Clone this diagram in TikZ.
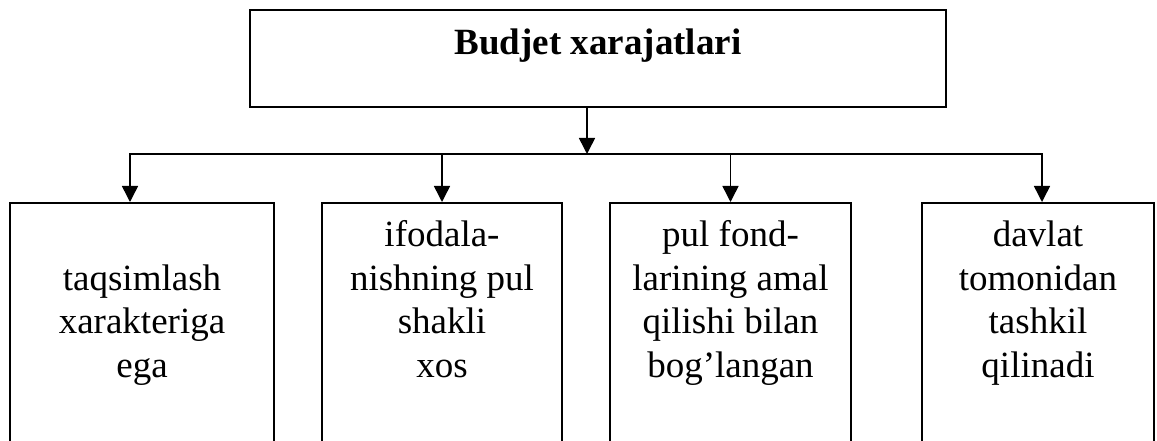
\documentclass[tikz,border=0pt]{standalone}
\usepackage{fontspec}
\setmainfont{Liberation Serif}
\usetikzlibrary{arrows.meta}
\begin{document}
\begin{tikzpicture}[
        x=1pt, y=-1pt,
        line width=1.5pt,
        box/.style={draw, rectangle, inner sep=0pt, minimum height=260pt, anchor=north},
        txt/.style={align=center, anchor=base, inner sep=0pt,
            font=\fontsize{37}{43.5}\selectfont},
        arr/.style={-{Triangle[length=16pt, width=16pt]}}
    ]

    \useasboundingbox (0,0) rectangle (1157,441);
    \clip (0,0) rectangle (1157,441);

    \node[draw, inner sep=0pt, minimum width=696pt, minimum height=97pt] (top) at (598,58.5) {};
    \node[txt, font=\fontsize{37}{43.5}\selectfont\bfseries] (title) at (598,55) {Budjet xarajatlari};

    \node[box, minimum width=264pt] (b1) at (142,202) {};
    \node[box, minimum width=240pt] (b2) at (442,202) {};
    \node[box, minimum width=241pt] (b3) at (730.5,202) {};
    \node[box, minimum width=232pt] (b4) at (1038,202) {};

    \node[txt] (t1) at (142,377) {taqsimlash\\xarakteriga\\ega};
    \node[txt] (t2) at (442,377) {ifodala-\\nishning pul\\shakli\\xos};
    \node[txt] (t3) at (730.5,377) {pul fond-\\larining amal\\qilishi bilan\\bog’langan};
    \node[txt] (t4) at (1038,377) {davlat\\tomonidan\\tashkil\\qilinadi};

    \coordinate (m) at (587,154);
    \draw[arr] (m |- top.south) -- (m);

    \foreach \i/\x in {1/130,2/442,3/730.5,4/1042} {
        \coordinate (d\i) at (\x,154);
        \draw[arr] (d\i) -- (d\i |- b\i.north);
    }
    \draw[line cap=rect] (d1) -- (d4);
\end{tikzpicture}
\end{document}
